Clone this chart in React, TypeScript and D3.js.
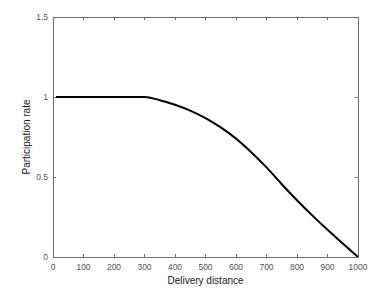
import React from "react";
import * as d3 from "d3";

const distances = [10, 100, 200, 300, 350, 400, 450, 500, 550, 600, 650, 700, 750, 800, 850, 900, 950, 1000];
const rates = [1, 1, 1, 1, 0.98, 0.952, 0.915, 0.868, 0.81, 0.74, 0.655, 0.56, 0.455, 0.355, 0.26, 0.17, 0.085, 0];
const xTicks = [0, 100, 200, 300, 400, 500, 600, 700, 800, 900, 1000];
const yTicks = [0, 0.5, 1, 1.5];
const xLabel = "Delivery distance";
const yLabel = "Participation rate";

const W = 384, H = 302;
const left = 53, right = 358, top = 17, bottom = 257;

export default function App() {
  const x = d3.scaleLinear().domain([0, 1000]).range([left, right]);
  const y = d3.scaleLinear().domain([0, 1.5]).range([bottom, top]);
  const pts = distances.map((d, i) => [d, rates[i]] as [number, number]);
  const line = d3.line<[number, number]>().x(d => x(d[0])).y(d => y(d[1])).curve(d3.curveMonotoneX);
  const axisColor = "#6e6e6e";
  const textColor = "#555555";
  const font = "'Liberation Sans', Arial, sans-serif";
  const tl = 3;
  return (
    <div style={{ position: "fixed", left: 0, top: 0 }}>
      <svg width={W} height={H} style={{ display: "block", background: "#fff" }} fontFamily={font}>
        <rect x={0} y={0} width={W} height={H} fill="#fff" />
        <path d={line(pts) || ""} fill="none" stroke="#000" strokeWidth={2} strokeLinejoin="round" />
        <rect x={left} y={top} width={right - left} height={bottom - top} fill="none" stroke={axisColor} strokeWidth={1} shapeRendering="crispEdges" />
        {xTicks.map(t => (
          <g key={"x" + t}>
            <line x1={x(t)} x2={x(t)} y1={bottom} y2={bottom - tl} stroke={axisColor} shapeRendering="crispEdges" />
            <line x1={x(t)} x2={x(t)} y1={top} y2={top + tl} stroke={axisColor} shapeRendering="crispEdges" />
            <text x={x(t)} y={bottom + 13} textAnchor="middle" fontSize={8.5} fill={textColor}>{t}</text>
          </g>
        ))}
        {yTicks.map(t => (
          <g key={"y" + t}>
            <line x1={left} x2={left + tl} y1={y(t)} y2={y(t)} stroke={axisColor} shapeRendering="crispEdges" />
            <line x1={right} x2={right - tl} y1={y(t)} y2={y(t)} stroke={axisColor} shapeRendering="crispEdges" />
            <text x={left - 5} y={y(t) + 3} textAnchor="end" fontSize={8.5} fill={textColor}>{t}</text>
          </g>
        ))}
        <text x={(left + right) / 2} y={bottom + 27} textAnchor="middle" fontSize={10} fill="#202020">{xLabel}</text>
        <text transform={`translate(30,${(top + bottom) / 2}) rotate(-90)`} textAnchor="middle" fontSize={10} fill="#202020">{yLabel}</text>
      </svg>
    </div>
  );
}
